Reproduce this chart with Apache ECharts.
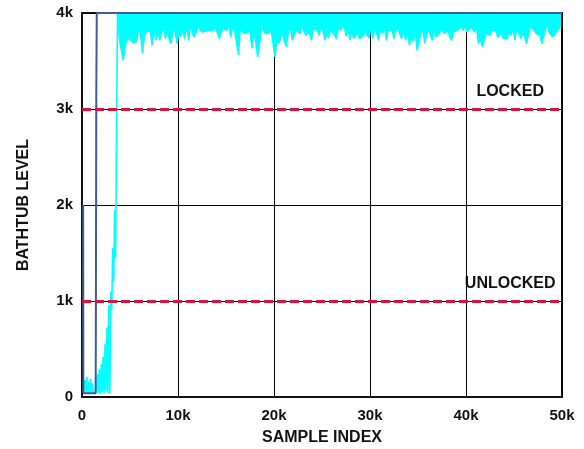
<!DOCTYPE html>
<html>
<head>
<meta charset="utf-8">
<script src="https://cdn.jsdelivr.net/npm/echarts@6/dist/echarts.min.js"></script>
<style>
  html, body { margin: 0; padding: 0; background: #fff; }
  #chart { width: 584px; height: 449px; }
</style>
</head>
<body>
<div id="chart"></div>
<script>
// Axis ticks and their labels
const sampleTicks = [0, 10000, 20000, 30000, 40000, 50000];
const sampleTickLabels = ['0', '10k', '20k', '30k', '40k', '50k'];
const levelTicks = [0, 1000, 2000, 3000, 4000];
const levelTickLabels = ['0', '1k', '2k', '3k', '4k'];

// Lock thresholds
const thresholds = [1000, 3000];
const thresholdNames = ['UNLOCKED', 'LOCKED'];

// Dark trace: fast recovery (sample index, level)
const fastIdx = [120, 140, 1420, 1440, 1490, 1540, 50000];
const fastLevel = [2000, 40, 40, 540, 3200, 4000, 4000];

// Cyan trace, acquisition phase: one reading every 100 samples from 200
const acqStart = 200;
const acqStep = 100;
const acqLevel = [
  60, 180, 40, 210, 50, 160, 40, 190, 50, 140,
  40, 60, 40, 50, 240, 40, 290, 40, 340, 50,
  420, 40, 550, 60, 720, 40, 960, 40, 1100, 900,
  1550, 1200, 1950, 1450, 2800, 4000
];

// Cyan trace, locked phase (lower envelope): one reading every 200 samples from 3700
const bandStart = 3700;
const bandStep = 200;
const bandLevel = [
  4000,3715,3733,3507,3650,3715,3740,3720,3690,3690,
  3700,3850,3760,3580,3760,3800,3800,3819,3663,3830,
  3715,3800,3715,3802,3837,3733,3837,3715,3680,3854,
  3802,3680,3785,3760,3819,3733,3871,3715,3889,3785,
  3750,3802,3854,3871,3802,3819,3810,3802,3819,3819,
  3819,3854,3840,3733,3800,3837,3819,3819,3880,
  3750,3854,3810,3802,3560,3854,3802,3819,3785,3802,
  3819,3630,3785,3700,3542,3680,3854,3819,3785,3802,
  3790,3819,3800,3542,3715,3680,3740,3785,3698,3646,
  3819,3854,3715,3767,3819,3802,3785,3854,3819,3767,
  3750,3802,3715,3837,3854,3820,3767,3854,3819,3715,
  3780,3740,3837,3800,3819,3733,3854,3819,3837,3871,
  3760,3854,
  3715,3819,3733,3750,3802,3733,3750,3767,3802,3819,
  3740,3854,3733,3854,3837,3715,3837,3785,3854,3715,
  3819,3830,3819,3733,3819,3854,3785,3733,3837,3715,
  3802,3663,3750,3698,3800,3611,3630,3785,3837,3680,
  3770,3837,3760,3715,3819,3750,3767,3802,3837,3785,
  3802,3819,3750,3715,3802,3785,3819,3837,3854,3819,
  3871,
  3802,3819,3854,3837,3802,3854,3680,3733,3646,3630,
  3785,3802,3767,3819,3837,3819,3750,3733,3785,3733,
  3715,3733,3802,3767,3837,3715,3854,3854,3733,3785,
  3750,3680,3663,3854,3871,3819,3785,3802,3767,3680,
  3698,3837,3871,3785,3802,3750,3767,3819,3830,3854
];

const FONT = '"Liberation Sans", Arial, Helvetica, sans-serif';
const CYAN = '#00ffff';
const DARK = '#3e5c9a';
const RED = '#e0103c';
const labelX = 44600;

const fastData = fastIdx.map((x, i) => [x, fastLevel[i]]);
const acqData = acqLevel.map((v, i) => [acqStart + i * acqStep, v]);
const bandData = bandLevel.map((v, i) => [bandStart + i * bandStep, v]);

const chart = echarts.init(document.getElementById('chart'), null, { renderer: 'canvas' });

chart.setOption({
  animation: false,
  backgroundColor: '#fff',
  grid: {
    left: 82, right: 22, top: 13, bottom: 52,
    outerBoundsMode: 'none',
    containLabel: false,
    show: true, borderColor: '#111', borderWidth: 2, backgroundColor: 'transparent'
  },
  xAxis: {
    type: 'value',
    min: sampleTicks[0], max: sampleTicks[sampleTicks.length - 1],
    interval: sampleTicks[1] - sampleTicks[0],
    name: 'SAMPLE INDEX',
    nameLocation: 'middle',
    nameGap: 33,
    nameTextStyle: { fontFamily: FONT, fontWeight: 'bold', fontSize: 16, color: '#111' },
    axisLine: { show: true, lineStyle: { color: '#111', width: 2 } },
    axisTick: { show: false },
    axisLabel: {
      margin: 11,
      fontFamily: FONT, fontWeight: 'bold', fontSize: 15, color: '#111',
      formatter: v => sampleTickLabels[sampleTicks.indexOf(v)]
    },
    splitLine: { show: true, lineStyle: { color: '#000', width: 1 } }
  },
  yAxis: {
    type: 'value',
    min: levelTicks[0], max: levelTicks[levelTicks.length - 1],
    interval: levelTicks[1] - levelTicks[0],
    name: 'BATHTUB LEVEL',
    nameLocation: 'middle',
    nameGap: 50,
    nameRotate: 90,
    nameTextStyle: { fontFamily: FONT, fontWeight: 'bold', fontSize: 16, color: '#111' },
    axisLine: { show: true, lineStyle: { color: '#111', width: 2 } },
    axisTick: { show: false },
    axisLabel: {
      margin: 9,
      fontFamily: FONT, fontWeight: 'bold', fontSize: 15, color: '#111',
      formatter: v => levelTickLabels[levelTicks.indexOf(v)]
    },
    splitLine: { show: true, lineStyle: { color: '#000', width: 1 } }
  },
  series: [
    {
      name: 'acquire',
      type: 'line',
      data: acqData,
      showSymbol: false,
      z: 2,
      lineStyle: { color: CYAN, width: 1.6 }
    },
    {
      name: 'locked band',
      type: 'line',
      data: bandData,
      showSymbol: false,
      z: 2,
      lineStyle: { color: CYAN, width: 1.4 },
      areaStyle: { origin: 'end', color: CYAN, opacity: 1 }
    },
    {
      name: 'fast',
      type: 'line',
      data: fastData,
      showSymbol: false,
      z: 3,
      lineStyle: { color: DARK, width: 2 }
    },
    {
      name: 'thresholds',
      type: 'line',
      data: [],
      z: 4,
      markLine: {
        silent: true,
        symbol: ['none', 'none'],
        label: { show: false },
        lineStyle: { color: RED, width: 3, type: [9, 4] },
        data: thresholds.map(t => ({ yAxis: t }))
      },
      markPoint: {
        silent: true,
        symbol: 'circle',
        symbolSize: 0,
        label: {
          show: true,
          position: 'top',
          distance: 9,
          fontFamily: FONT, fontWeight: 'bold', fontSize: 16, color: '#111',
          formatter: p => p.name
        },
        data: thresholds.map((t, i) => ({ name: thresholdNames[i], coord: [labelX, t] }))
      }
    }
  ]
});
</script>
</body>
</html>
